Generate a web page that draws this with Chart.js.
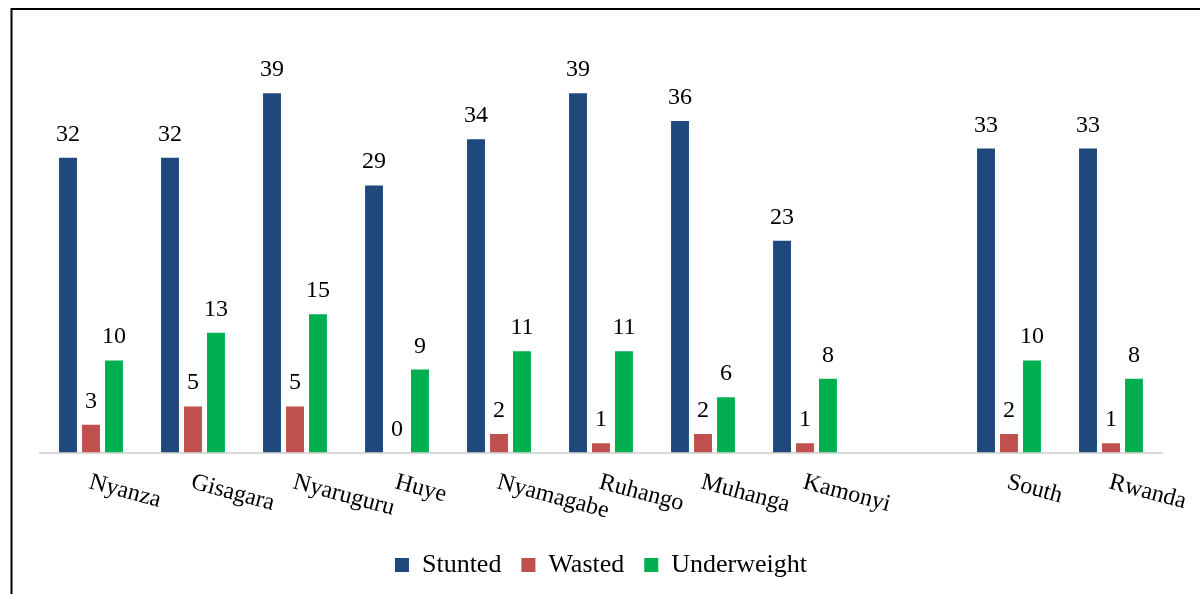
<!DOCTYPE html>
<html>
<head>
<meta charset="utf-8">
<script src="https://cdn.jsdelivr.net/npm/chart.js@4.4.1/dist/chart.umd.min.js"></script>
<style>
  html, body { margin: 0; padding: 0; background: #ffffff; }
  #wrap { width: 1200px; height: 594px; position: relative; }
</style>
</head>
<body>
<div id="wrap"><canvas id="c" width="1200" height="594"></canvas></div>
<script>
const categories = ['Nyanza', 'Gisagara', 'Nyaruguru', 'Huye', 'Nyamagabe', 'Ruhango', 'Muhanga', 'Kamonyi', '', 'South', 'Rwanda'];
const stunted     = [32, 32, 39, 29, 34, 39, 36, 23, null, 33, 33];
const wasted      = [3, 5, 5, 0, 2, 1, 2, 1, null, 2, 1];
const underweight = [10, 13, 15, 9, 11, 11, 6, 8, null, 10, 8];
const seriesNames = ['Stunted', 'Wasted', 'Underweight'];
const seriesColors = ['#1F497D', '#C0504D', '#00B050'];
const yMax = 45;

const SERIF = '"Liberation Serif", "Times New Roman", serif';
const LEGEND_PAD = 20;

const framePlugin = {
  id: 'frame',
  beforeDraw(chart) {
    const ctx = chart.ctx;
    ctx.save();
    ctx.fillStyle = '#ffffff';
    ctx.fillRect(0, 0, chart.width, chart.height);
    ctx.strokeStyle = '#000000';
    ctx.lineWidth = 2;
    ctx.beginPath();
    ctx.moveTo(11.5, chart.height + 2);
    ctx.lineTo(11.5, 9);
    ctx.lineTo(chart.width + 2, 9);
    ctx.stroke();
    ctx.restore();
  }
};

const labelPlugin = {
  id: 'labels',
  afterDatasetsDraw(chart) {
    const ctx = chart.ctx;
    ctx.save();
    ctx.font = '24px ' + SERIF;
    ctx.fillStyle = '#000000';
    ctx.textAlign = 'center';
    ctx.textBaseline = 'alphabetic';
    chart.data.datasets.forEach((ds, di) => {
      const meta = chart.getDatasetMeta(di);
      meta.data.forEach((bar, i) => {
        const v = ds.data[i];
        if (v === null || v === undefined) return;
        ctx.fillText(String(v), bar.x, bar.y - 17);
      });
    });
    const xs = chart.scales.x;
    ctx.font = '24px ' + SERIF;
    ctx.textAlign = 'left';
    ctx.textBaseline = 'alphabetic';
    chart.data.labels.forEach((lab, i) => {
      if (!lab) return;
      const x = xs.getPixelForValue(i);
      ctx.save();
      ctx.translate(x - 3, 488);
      ctx.rotate(15 * Math.PI / 180);
      ctx.fillText(lab, 0, 0);
      ctx.restore();
    });
    ctx.restore();
  }
};

new Chart(document.getElementById('c'), {
  type: 'bar',
  data: {
    labels: categories,
    datasets: [
      { label: seriesNames[0], data: stunted, backgroundColor: seriesColors[0] },
      { label: seriesNames[1], data: wasted, backgroundColor: seriesColors[1] },
      { label: seriesNames[2], data: underweight, backgroundColor: seriesColors[2] }
    ]
  },
  options: {
    responsive: false,
    animation: false,
    devicePixelRatio: 1,
    layout: { padding: { left: 40, right: 38, top: 38, bottom: 6 } },
    datasets: { bar: { categoryPercentage: 0.676, barPercentage: 0.78, borderWidth: 0 } },
    scales: {
      x: {
        grid: { display: false },
        border: { display: true, color: '#D9D9D9', width: 2 },
        ticks: { display: false },
        afterFit(scale) { scale.height = 99.5 - LEGEND_PAD; }
      },
      y: {
        display: false,
        min: 0,
        max: yMax
      }
    },
    plugins: {
      legend: {
        position: 'bottom',
        labels: {
          boxWidth: 14,
          boxHeight: 14,
          padding: LEGEND_PAD,
          color: '#000000',
          font: { family: SERIF, size: 26 }
        }
      },
      tooltip: { enabled: false }
    }
  },
  plugins: [framePlugin, labelPlugin]
});
</script>
</body>
</html>
